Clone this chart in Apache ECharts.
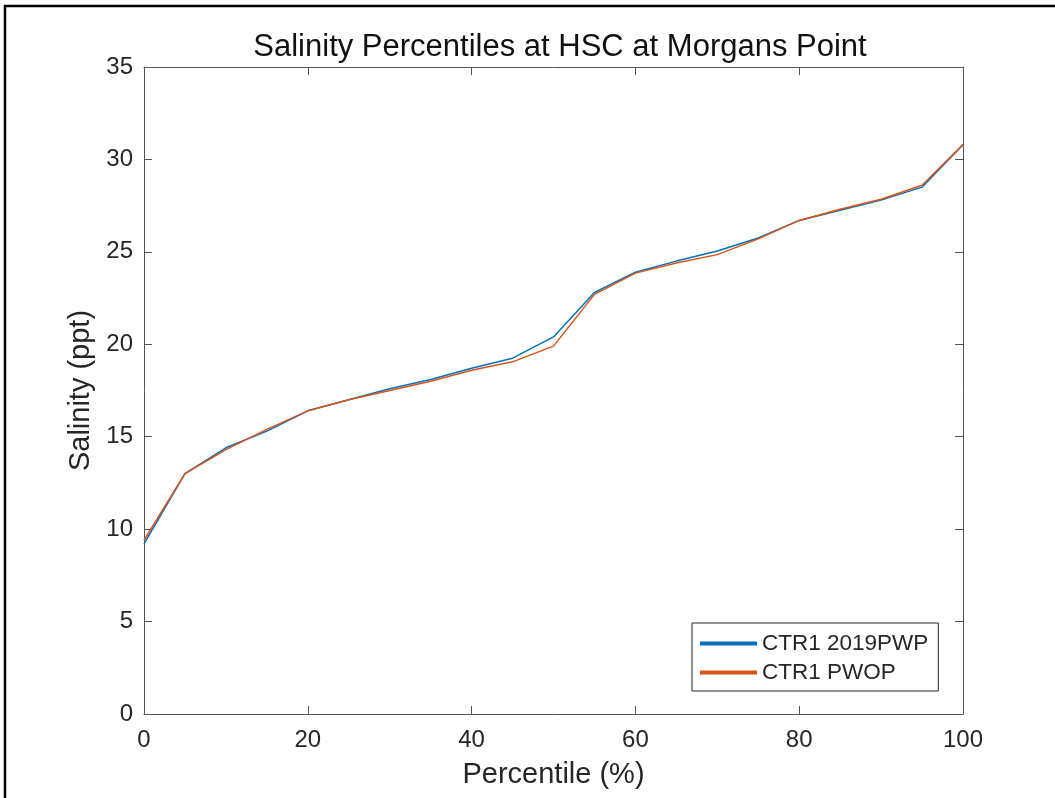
<!DOCTYPE html>
<html>
<head>
<meta charset="utf-8">
<script src="https://cdn.jsdelivr.net/npm/echarts@6/dist/echarts.min.js"></script>
<style>
  html, body { margin: 0; padding: 0; background: #fff; }
  #chart { width: 1055px; height: 798px; }
</style>
</head>
<body>
<div id="chart"></div>
<script>
const percentiles = [0, 5, 10, 15, 20, 25, 30, 35, 40, 45, 50, 55, 60, 65, 70, 75, 80, 85, 90, 95, 100];
const ctr1_2019PWP = [9.2, 13.0, 14.4, 15.3, 16.4, 17.0, 17.6, 18.1, 18.7, 19.25, 20.4, 22.8, 23.9, 24.5, 25.05, 25.75, 26.7, 27.25, 27.8, 28.5, 30.8];
const ctr1_PWOP = [9.4, 13.0, 14.3, 15.4, 16.4, 17.0, 17.5, 18.0, 18.6, 19.05, 19.9, 22.7, 23.85, 24.4, 24.85, 25.7, 26.7, 27.3, 27.85, 28.6, 30.8];
const seriesNames = ['CTR1 2019PWP', 'CTR1 PWOP'];
const xTicks = [0, 20, 40, 60, 80, 100];
const yTicks = [0, 5, 10, 15, 20, 25, 30, 35];

const FONT = '"Liberation Sans", Arial, Helvetica, sans-serif';
const AX = '#555555';
const TXT = '#262626';

function pairs(xs, ys) { return xs.map((x, i) => [x, ys[i]]); }

const chart = echarts.init(document.getElementById('chart'), null, { renderer: 'canvas' });
const option = {
  backgroundColor: '#ffffff',
  animation: false,
  title: {
    text: 'Salinity Percentiles at HSC at Morgans Point',
    left: 555, top: 27, textAlign: 'center',
    textStyle: { fontFamily: FONT, fontSize: 31, fontWeight: 'normal', color: '#111' }
  },
  grid: { left: 144, right: 92, top: 67, bottom: 84, containLabel: false },
  legend: {
    orient: 'vertical',
    left: 692, top: 623,
    padding: [9, 10, 7, 8],
    itemGap: 6,
    itemWidth: 57, itemHeight: 4,
    icon: 'rect',
    borderColor: '#262626', borderWidth: 1,
    backgroundColor: '#fff',
    textStyle: { fontFamily: FONT, fontSize: 22.5, color: TXT, lineHeight: 22 },
    data: seriesNames
  },
  xAxis: [{
    type: 'value', min: 0, max: 100, interval: 20,
    position: 'bottom',
    name: 'Percentile (%)', nameLocation: 'middle', nameGap: 46,
    nameTextStyle: { fontFamily: FONT, fontSize: 29, color: TXT },
    axisLine: { show: true, onZero: false, lineStyle: { color: AX, width: 1 } },
    axisTick: { show: true, inside: true, length: 8, lineStyle: { color: AX } },
    axisLabel: { fontFamily: FONT, fontSize: 24, color: TXT, margin: 14 },
    splitLine: { show: false }
  }, {
    type: 'value', min: 0, max: 100, interval: 20,
    position: 'top',
    axisLine: { show: true, onZero: false, lineStyle: { color: AX, width: 1 } },
    axisTick: { show: true, inside: true, length: 8, lineStyle: { color: AX } },
    axisLabel: { show: false },
    splitLine: { show: false }
  }],
  yAxis: [{
    type: 'value', min: 0, max: 35, interval: 5,
    position: 'left',
    name: 'Salinity (ppt)', nameLocation: 'middle', nameGap: 41,
    nameTextStyle: { fontFamily: FONT, fontSize: 29, color: TXT },
    axisLine: { show: true, onZero: false, lineStyle: { color: AX, width: 1 } },
    axisTick: { show: true, inside: true, length: 8, lineStyle: { color: AX } },
    axisLabel: { fontFamily: FONT, fontSize: 24, color: TXT, margin: 11 },
    splitLine: { show: false }
  }, {
    type: 'value', min: 0, max: 35, interval: 5,
    position: 'right',
    axisLine: { show: true, onZero: false, lineStyle: { color: AX, width: 1 } },
    axisTick: { show: true, inside: true, length: 8, lineStyle: { color: AX } },
    axisLabel: { show: false },
    splitLine: { show: false }
  }],
  series: [{
    name: seriesNames[0], type: 'line',
    xAxisIndex: 0, yAxisIndex: 0,
    data: pairs(percentiles, ctr1_2019PWP),
    showSymbol: false, symbol: 'none',
    lineStyle: { color: '#0072BD', width: 1.5 },
    itemStyle: { color: '#0072BD' }
  }, {
    name: seriesNames[1], type: 'line',
    xAxisIndex: 0, yAxisIndex: 0,
    data: pairs(percentiles, ctr1_PWOP),
    showSymbol: false, symbol: 'none',
    lineStyle: { color: '#D95319', width: 1.5 },
    itemStyle: { color: '#D95319' }
  }],
  graphic: [
    { type: 'line', shape: { x1: 4, y1: 6, x2: 1055, y2: 6 }, style: { stroke: '#000', lineWidth: 2.5 } },
    { type: 'line', shape: { x1: 5, y1: 5, x2: 5, y2: 798 }, style: { stroke: '#000', lineWidth: 2.5 } }
  ]
};
chart.setOption(option);
</script>
</body>
</html>
